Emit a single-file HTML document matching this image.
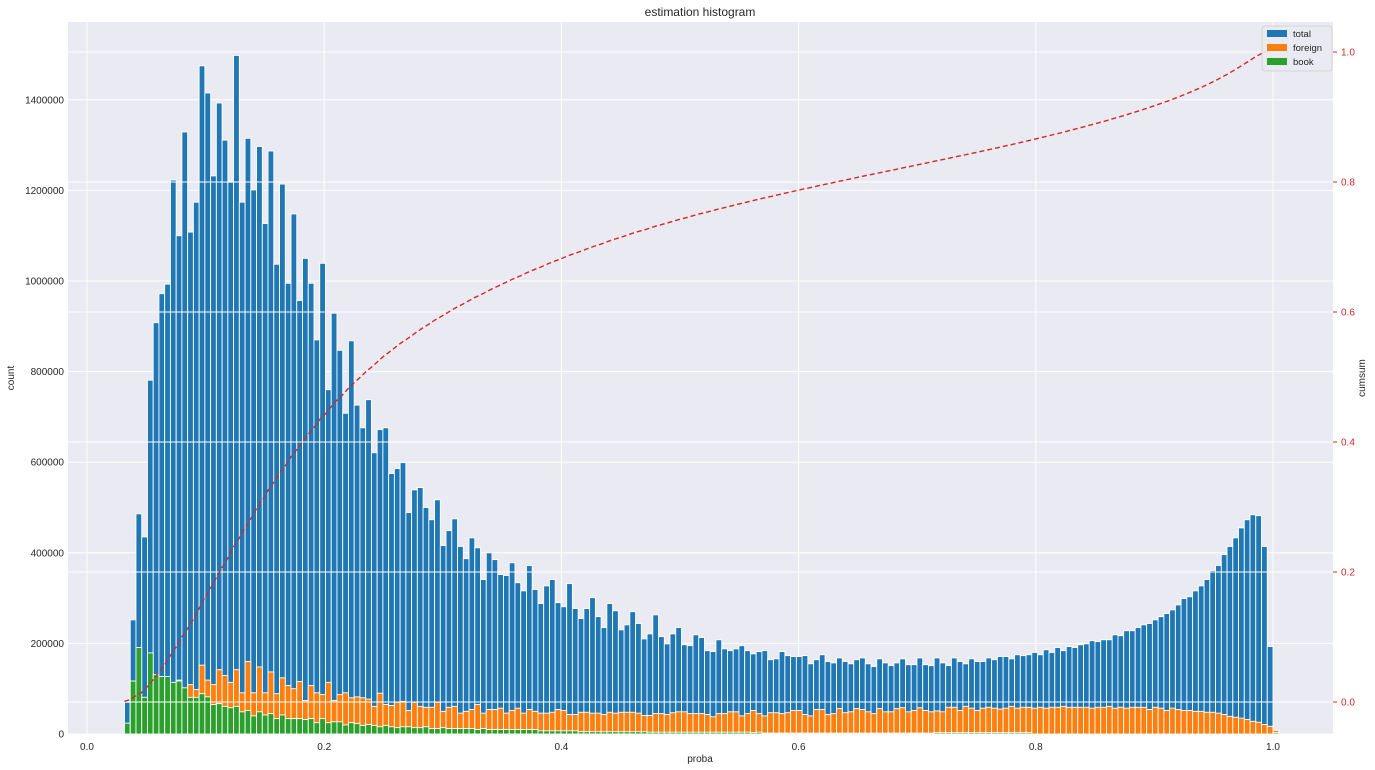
<!DOCTYPE html>
<html><head><meta charset="utf-8"><style>
html,body{margin:0;padding:0;background:#fff;}
svg{display:block;font-family:"Liberation Sans",sans-serif;}
</style></head><body>
<svg id="chart" width="1375" height="770" viewBox="0 0 1375 770" xmlns="http://www.w3.org/2000/svg">
<rect x="68" y="22" width="1265" height="712" fill="#eaeaf2"/>
<g id="grid"></g>
<g id="bars"></g>
<g id="grid2"></g>
<g id="line"></g>
<g id="axes"></g>
<text x="700" y="16" font-size="12" text-anchor="middle" fill="#262626">estimation histogram</text>
<text x="700" y="762" font-size="10" text-anchor="middle" fill="#262626">proba</text>
<text x="14" y="378" font-size="10" text-anchor="middle" fill="#262626" transform="rotate(-90 14 378)">count</text>
<text x="1365" y="378" font-size="10" text-anchor="middle" fill="#262626" transform="rotate(-90 1365 378)">cumsum</text>
<g>
<rect x="1262" y="26" width="70" height="45" rx="3" fill="#eaeaf2" stroke="#cccccc" stroke-width="0.8" opacity="0.9"/>
<g><rect x="1267" y="30" width="20" height="7" fill="#1f77b4"/><text x="1293" y="37" font-size="9.5" fill="#262626">total</text></g>
<g><rect x="1267" y="44" width="20" height="7" fill="#ff7f0e"/><text x="1293" y="51" font-size="9.5" fill="#262626">foreign</text></g>
<g><rect x="1267" y="58" width="20" height="7" fill="#2ca02c"/><text x="1293" y="65" font-size="9.5" fill="#262626">book</text></g>
</g>
</svg>
<script>
const binStart = 0.0316;
const binEnd = 1.0;
const totalK = [70,252,486,435,781,908,972,993,1223,1100,1329,1108,1174,1475,1415,1232,1393,1311,1218,1498,1174,1315,1201,1297,1127,1287,1037,1214,995,1148,957,1050,995,870,1039,760,929,847,708,868,726,676,
738,621,672,676,575,586,599,489,539,544,500,473,517,416,449,475,414,387,433,411,341,400,385,352,350,378,334,316,372,319,288,327,341,290,281,332,277,255,277,301,259,235,288,272,230,241,270,244,210,
221,263,215,199,221,235,197,195,219,213,184,182,208,188,184,188,195,184,177,182,184,164,166,182,173,171,171,173,155,164,175,160,157,168,160,155,164,168,155,149,166,157,151,157,166,153,153,168,153,
151,168,157,151,168,160,155,166,160,160,168,164,171,171,166,175,173,175,180,175,186,180,191,184,193,191,197,199,206,204,208,208,219,217,228,228,235,241,244,252,259,266,274,285,299,303,316,327,341,361,372,396,414,433,455,473,484,482,414,193];
const foreignK = [15,60,80,60,90,100,105,110,110,119,93,109,98,152,119,109,142,129,114,142,91,160,91,148,91,137,89,124,107,100,116,74,107,91,87,114,74,87,91,80,82,80,
77,61,90,65,63,70,72,52,70,61,59,59,70,50,59,61,46,50,54,65,46,54,54,57,46,52,57,46,54,50,46,46,48,54,52,43,43,48,48,46,46,43,48,46,48,48,48,46,41,
41,45,45,43,47,49,49,45,45,45,43,38,45,45,49,49,40,45,52,45,40,47,47,45,47,52,52,43,40,54,54,43,45,56,47,49,56,54,49,45,56,49,49,56,58,49,52,58,52,49,
51,49,59,59,52,61,57,52,57,59,57,55,57,61,57,59,59,57,59,57,59,59,61,59,59,59,59,57,59,59,61,57,59,57,59,59,59,54,59,57,52,57,54,52,52,50,50,48,48,46,43,39,37,35,32,28,26,21,17,8];
const bookK = [24,117,191,81,179,131,127,127,114,117,102,81,81,89,82,65,67,61,58,61,49,52,40,49,42,45,34,42,34,34,34,32,34,25,34,25,27,27,20,25,23,19,
21,19,16,19,16,14,16,16,14,14,16,12,12,14,12,12,12,12,12,10,12,10,10,10,10,10,10,10,10,10,7,7,7,7,7,7,7,5,5,5,5,5,5,5,5,5,5,5,5,
4,4,4,4,4,4,4,4,4,4,4,4,4,4,4,4,4,4,3,4,2,2,2,2,2,2,2,2,2,2,2,2,2,2,2,2,2,2,2,2,2,2,2,2,2,2,2,2,2,2,
3,3,3,3,3,3,3,3,3,3,3,3,3,3,3,3,3,0,0,0,0,0,0,0,0,0,0,0,0,0,0,0,0,0,0,0,0,0,0,0,0,0,0,0,0,0,0,0,0,0,0,0,0,0,0,0,0,0,0,3];
const yTicks = [0,200000,400000,600000,800000,1000000,1200000,1400000];
const xTicks = [0.0,0.2,0.4,0.6,0.8,1.0];
const rTicks = [0.0,0.2,0.4,0.6,0.8,1.0];

const NS="http://www.w3.org/2000/svg";
const X0=87, X1=1273, PB=734;
const xs = v => X0 + v*(X1-X0);
const ys = c => PB - c*0.000453;
const yr = v => 702 - v*650;
function mk(tag, parent, attrs){const e=document.createElementNS(NS,tag);for(const k in attrs)e.setAttribute(k,attrs[k]);parent.appendChild(e);return e;}
const grid=document.getElementById('grid'), grid2=document.getElementById('grid2'), bars=document.getElementById('bars'), axes=document.getElementById('axes'), lineG=document.getElementById('line');

xTicks.forEach(t=>{
  const l=mk('line',grid,{x1:xs(t),x2:xs(t),y1:22,y2:734,stroke:'#fff','stroke-width':1});
  
  
  const tx=mk('text',axes,{x:xs(t),y:750,'font-size':10,'text-anchor':'middle',fill:'#262626'});
  tx.textContent=t.toFixed(1);
  
  
});
yTicks.forEach(t=>{
  const l=mk('line',grid,{x1:68,x2:1333,y1:ys(t),y2:ys(t),stroke:'#fff','stroke-width':1});
  
  
  const tx=mk('text',axes,{x:64,y:ys(t)+3.5,'font-size':10,'text-anchor':'end',fill:'#262626'});
  tx.textContent=String(t);
  
  
});
rTicks.forEach(t=>{
  const l=mk('line',grid2,{x1:68,x2:1333,y1:yr(t),y2:yr(t),stroke:'#fff','stroke-width':1});
  
  
  const tk=mk('line',axes,{x1:1333,x2:1337,y1:yr(t),y2:yr(t),stroke:'#d62728','stroke-width':1});
  
  
  const tx=mk('text',axes,{x:1341,y:yr(t)+3.5,'font-size':10,'text-anchor':'start',fill:'#d62728'});
  tx.textContent=t.toFixed(1);
  
  
});

const n=totalK.length, w=(binEnd-binStart)/n;
function drawSeries(arr,color,name){
  arr.forEach((v,i)=>{
    const x=xs(binStart+i*w), x2=xs(binStart+(i+1)*w), c=v*1000;
    if(c<=0) return;
    const r=mk('rect',bars,{x:x,y:ys(c),width:x2-x,height:PB-ys(c),fill:color,stroke:'#fff','stroke-width':0.9});
    
    
  });
}
drawSeries(totalK,'#1f77b4','total');
drawSeries(foreignK,'#ff7f0e','foreign');
drawSeries(bookK,'#2ca02c','book');

const sum=totalK.reduce((a,b)=>a+b,0);
let acc=0; const pts=[];
totalK.forEach((v,i)=>{acc+=v;pts.push(xs(binStart+i*w)+','+yr(acc/sum));});
const pl=mk('polyline',lineG,{points:pts.join(' '),fill:'none',stroke:'#d62728','stroke-width':1.4,'stroke-dasharray':'5,3'});


</script>
</body></html>
